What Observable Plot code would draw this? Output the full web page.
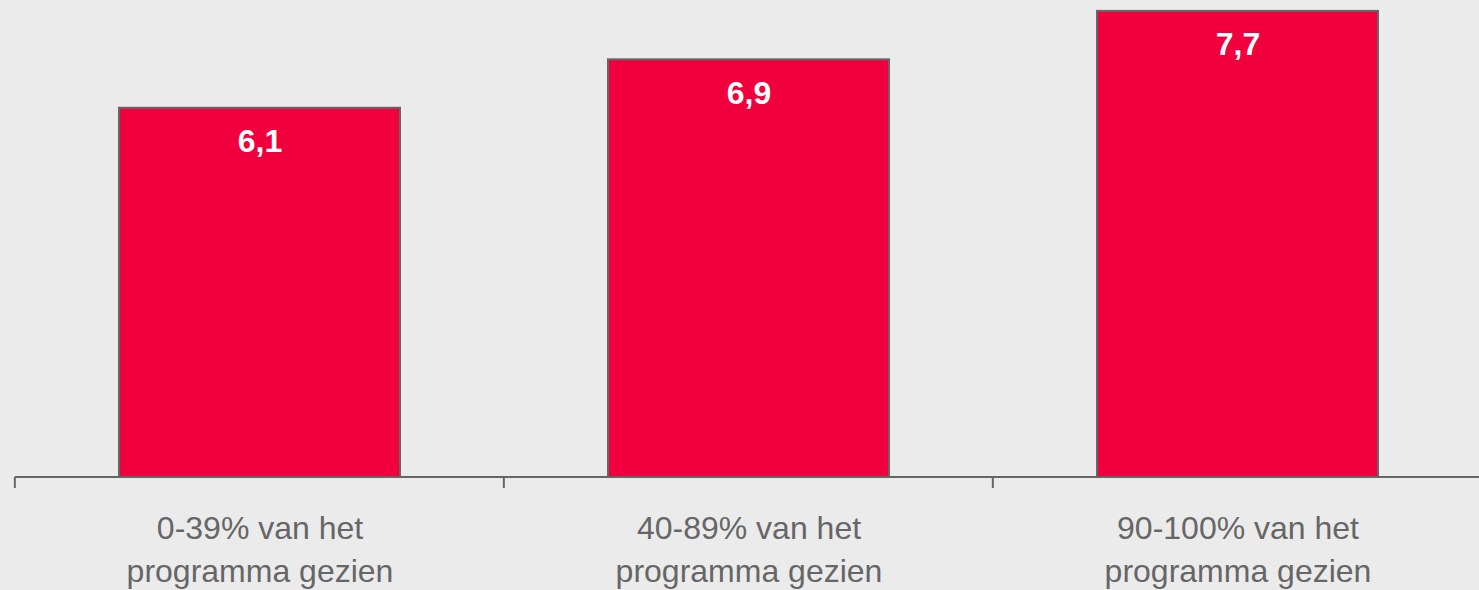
<!DOCTYPE html>
<html>
<head>
<meta charset="utf-8">
<script src="https://cdn.jsdelivr.net/npm/d3@7"></script>
<script src="https://cdn.jsdelivr.net/npm/@observablehq/plot@0.6"></script>
<style>
  html, body { margin: 0; padding: 0; background: #ebebeb; }
  #chart svg { display: block; }
</style>
</head>
<body>
<div id="chart"></div>
<script>
const categories = ["0-39%", "40-89%", "90-100%"];
const categoryLabels = ["0-39% van het\nprogramma gezien", "40-89% van het\nprogramma gezien", "90-100% van het\nprogramma gezien"];
const values = [6.1, 6.9, 7.7];

const data = categories.map((c, i) => ({cat: c, label: categoryLabels[i], value: values[i]}));
const fmt = v => d3.format(".1f")(v).replace(".", ",");

const paddingInner = 0.426;
const paddingOuter = paddingInner / 2;
const gray = "#666666";

function bottomAxis(index, scales, values, dimensions) {
  const x = scales.x;
  const step = x(categories[1]) - x(categories[0]);
  const y0 = dimensions.height - dimensions.marginBottom;
  const g = d3.create("svg:g");
  const bounds = categories.map(c => x(c) - step * paddingOuter);
  bounds.push(bounds[bounds.length - 1] + step);
  g.append("line")
    .attr("x1", bounds[0]).attr("x2", dimensions.width)
    .attr("y1", y0).attr("y2", y0)
    .attr("stroke", gray).attr("stroke-width", 2);
  g.selectAll("line.tick").data(bounds).join("line")
    .attr("class", "tick")
    .attr("x1", d => d).attr("x2", d => d)
    .attr("y1", y0).attr("y2", y0 + 11)
    .attr("stroke", gray).attr("stroke-width", 2);
  return g.node();
}

const chart = Plot.plot({
  width: 1479,
  height: 590,
  marginLeft: 14,
  marginRight: -3.5,
  marginTop: 0,
  marginBottom: 113,
  style: {background: "#ebebeb", fontFamily: "'Liberation Sans', Arial, sans-serif"},
  x: {domain: categories, paddingInner, paddingOuter, axis: null},
  y: {domain: [0, 7.88], axis: null},
  marks: [
    Plot.barY(data, {x: "cat", y: "value", fill: "#f0003c", stroke: gray, strokeWidth: 2}),
    Plot.text(data, {x: "cat", y: "value", text: d => fmt(d.value), fill: "white", fontWeight: "bold", fontSize: 32, lineAnchor: "bottom", dy: 44}),
    bottomAxis,
    Plot.text(data, {x: "cat", y: () => 0, text: "label", fill: "#666666", fontSize: 32, lineAnchor: "top", dy: 31, lineHeight: 1.344})
  ]
});
document.getElementById("chart").appendChild(chart);
</script>
</body>
</html>
